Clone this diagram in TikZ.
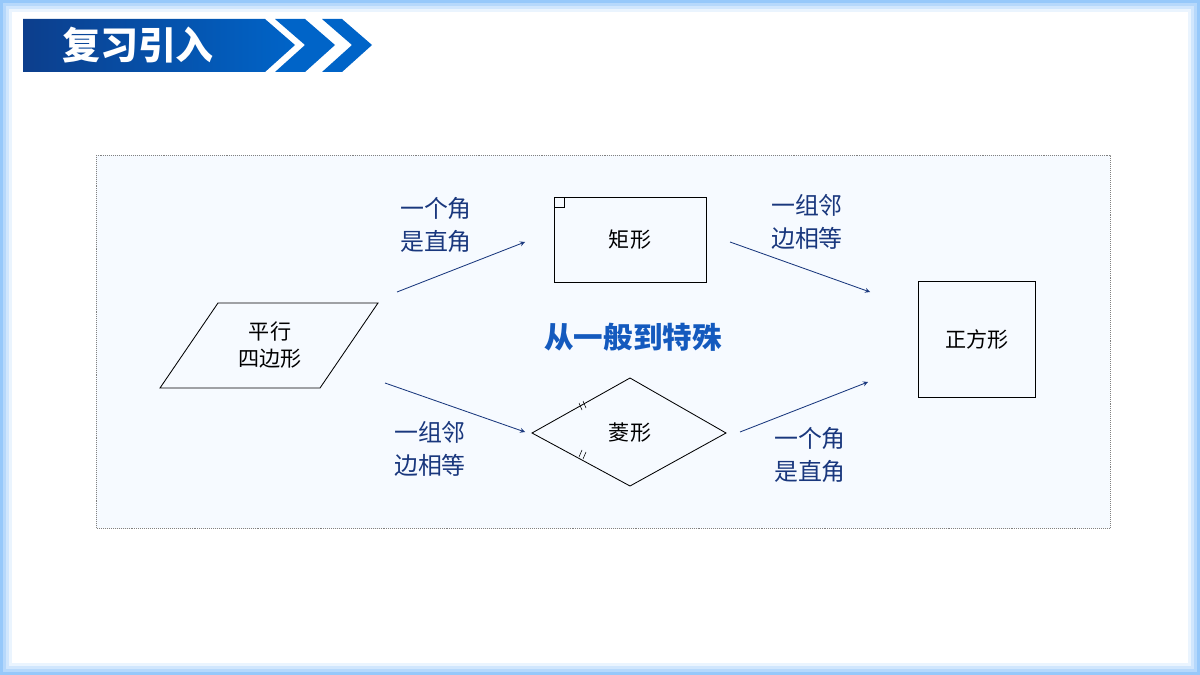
\documentclass[tikz,border=0pt]{standalone}
\usepackage{fontspec}
\newfontfamily\cjk{Noto Sans CJK SC}
\definecolor{framblue}{RGB}{150,200,250}
\definecolor{headdark}{RGB}{12,62,140}
\definecolor{headblue}{RGB}{0,100,200}
\definecolor{arrowblue}{RGB}{25,55,125}
\definecolor{titleblue}{RGB}{20,90,190}
\definecolor{panelfill}{RGB}{246,250,255}
\usetikzlibrary{decorations.markings}

\begin{document}
\begin{tikzpicture}[x=0.025cm,y=-0.025cm]

%
% Styles
%
\tikzstyle{shapeline} = [draw=black,semithick]
\tikzstyle{shapetext} = [font=\cjk\fontsize{15}{19}\selectfont,align=center]
\tikzstyle{cond}      = [font=\cjk\fontsize{17}{24}\selectfont,align=center,color=arrowblue]
\tikzstyle{edge}      = [->,>=stealth,semithick,draw=arrowblue]

\useasboundingbox (0,0) rectangle (1200,675);

% frame
\fill[framblue] (0,0) rectangle (1200,675);
\foreach \i/\c in {3/30,6/55,9/80,12/100}
  \fill[white!\c!framblue] (\i,\i) rectangle (1200-\i,675-\i);
\fill[white] (16,16) rectangle (1184,659);

% header
\shade[left color=headdark,right color=headblue]
  (23,19) -- (265,19) -- (295,45) -- (265,72) -- (23,72) -- cycle;
\fill[headblue] (275,19) -- (305,19) -- (335,45) -- (305,72) -- (275,72) -- (305,45) -- cycle;
\fill[headblue] (322,19) -- (342,19) -- (372,45) -- (342,72) -- (322,72) -- (352,45) -- cycle;
\node[font=\cjk\bfseries\fontsize{27}{30}\selectfont,text=white] (head) at (138,45) {复习引入};

% panel
\draw[densely dotted,fill=panelfill,draw=gray] (96,155) rectangle (1110,528);

% shapes
\draw[shapeline] (160,388) -- (218,303) -- (378,303) -- (320,388) -- cycle;
\node[shapetext] (para) at (270,345) {平行\\四边形};

\draw[shapeline] (554,197) rectangle (706,282);
\draw[shapeline,thin] (554,207) -- (564,207) -- (564,197);
\node[shapetext] (rect) at (630,240) {矩形};

\draw[shapeline] (532,433) -- (630,378) -- (726,433) -- (630,486) -- cycle;
\draw[thin] (579,403) -- ++(3,7) (583,401) -- ++(3,7);
\draw[thin] (579,457) -- ++(3,-7) (583,459) -- ++(3,-7);
\node[shapetext] (rhom) at (630,433) {菱形};

\draw[shapeline] (918,281) rectangle (1035,397);
\node[shapetext] (squa) at (977,339) {正方形};

\node[font=\cjk\bfseries\fontsize{21}{24}\selectfont,text=titleblue] (title) at (633,337) {从一般到特殊};

% connectors
\coordinate (a1) at (397,292); \coordinate (b1) at (525,242);
\coordinate (a2) at (730,242); \coordinate (b2) at (870,292);
\coordinate (a3) at (385,383); \coordinate (b3) at (525,432);
\coordinate (a4) at (740,432); \coordinate (b4) at (868,382);
\draw[edge] (a1) -- (b1);
\draw[edge] (a2) -- (b2);
\draw[edge] (a3) -- (b3);
\draw[edge] (a4) -- (b4);

\node[cond] (c1) at (436,225) {一个角\\是直角};
\node[cond] (c2) at (807,222) {一组邻\\边相等};
\node[cond] (c3) at (430,449) {一组邻\\边相等};
\node[cond] (c4) at (810,455) {一个角\\是直角};

\end{tikzpicture}
\end{document}
